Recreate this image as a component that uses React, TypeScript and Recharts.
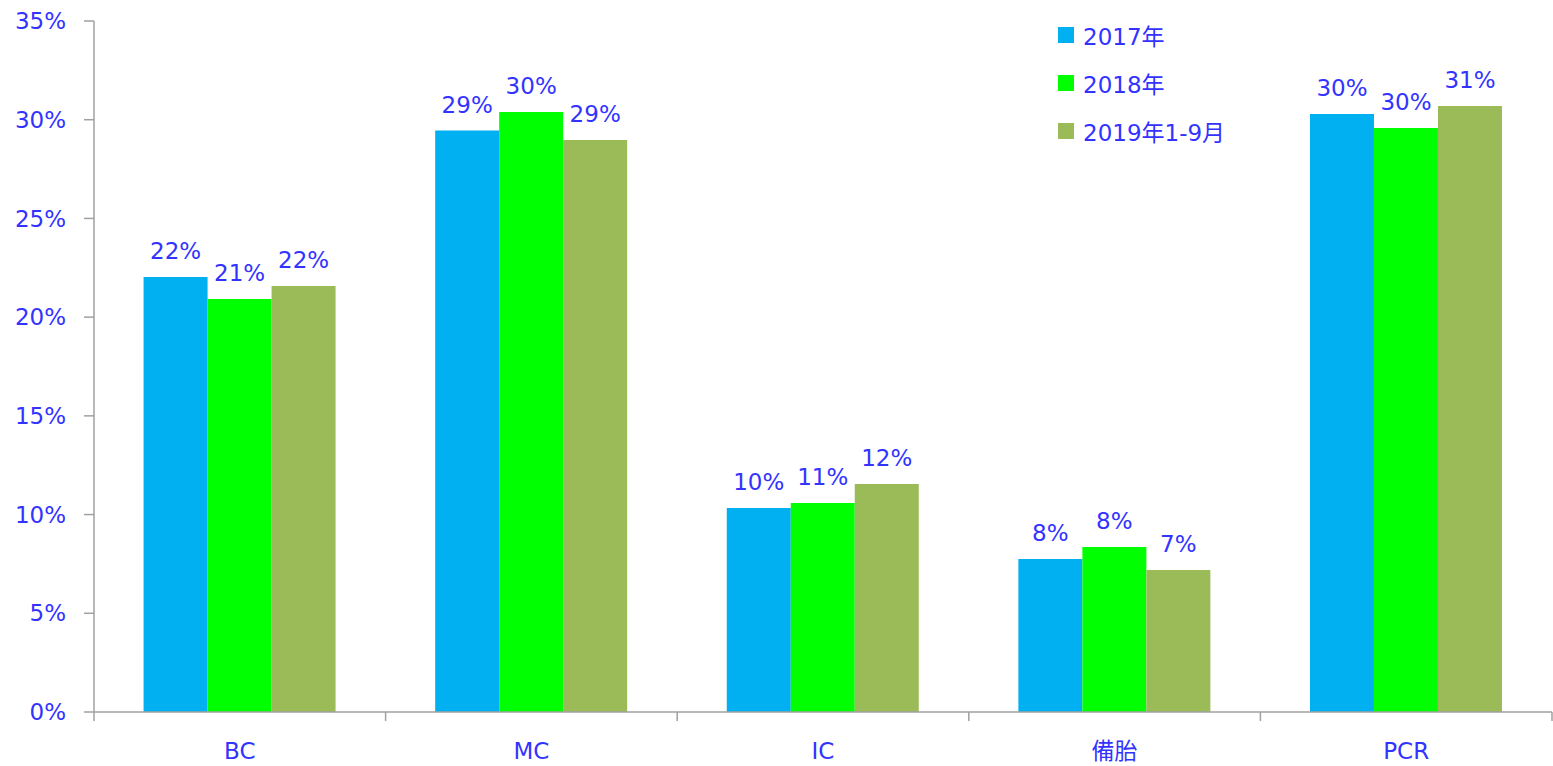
import { BarChart, Bar, XAxis, YAxis, LabelList } from 'recharts';

const categories = ['BC', 'MC', 'IC', '備胎', 'PCR'];
const share2017 = [22.03, 29.45, 10.33, 7.75, 30.29];
const share2018 = [20.92, 30.39, 10.59, 8.36, 29.58];
const share2019 = [21.58, 28.97, 11.55, 7.19, 30.69];
const yTicks = [0, 5, 10, 15, 20, 25, 30, 35];

const seriesNames = ['2017年', '2018年', '2019年1-9月'];
const seriesColors = ['#00B0F0', '#00FF00', '#9BBB59'];

const W = 1553;
const H = 766;
const MARGIN = { top: 21, right: 1, bottom: 0, left: 14 };
const Y_AXIS_W = 80;
const BAND = (W - MARGIN.left - MARGIN.right - Y_AXIS_W) / categories.length;
const TEXT = '#3333FF';
const AXIS = '#A0A0A0';
const FONT = "'DejaVu Sans', 'Noto Sans CJK SC', sans-serif";
const FS = 23;

const data = categories.map((name, i) => ({
  name,
  s2017: share2017[i],
  s2018: share2018[i],
  s2019: share2019[i],
}));

const keys = ['s2017', 's2018', 's2019'];

function XTick(props: any) {
  const { x, y, payload, index } = props;
  const half = BAND / 2;
  return (
    <g>
      <line x1={x - half} x2={x - half} y1={y} y2={y + 9} stroke={AXIS} strokeWidth={1.5} />
      {index === categories.length - 1 && (
        <line x1={x + half} x2={x + half} y1={y} y2={y + 9} stroke={AXIS} strokeWidth={1.5} />
      )}
      <text x={x} y={y + 47} textAnchor="middle" fill={TEXT} fontSize={FS} fontFamily={FONT}>
        {payload.value}
      </text>
    </g>
  );
}

function LegendBox() {
  return (
    <div style={{ position: 'absolute', left: 1058, top: 11, fontFamily: FONT }}>
      {seriesNames.map((n, i) => (
        <div key={n} style={{ display: 'flex', alignItems: 'center', height: 48 }}>
          <span
            style={{ width: 16, height: 16, background: seriesColors[i], display: 'inline-block', marginRight: 9 }}
          />
          <span style={{ color: TEXT, fontSize: FS }}>{n}</span>
        </div>
      ))}
    </div>
  );
}

const fmt = (v: any) => `${Math.round(Number(v))}%`;

export default function App() {
  return (
    <div style={{ position: 'absolute', left: 0, top: 0, width: W, height: H, fontFamily: FONT, background: '#fff' }}>
      <BarChart width={W} height={H} data={data} margin={MARGIN} barCategoryGap="17%" barGap={0}>
        <XAxis
          dataKey="name"
          height={54}
          axisLine={{ stroke: AXIS, strokeWidth: 1.5 }}
          tickLine={false}
          tickSize={0}
          tickMargin={0}
          tick={<XTick />}
          interval={0}
        />
        <YAxis
          width={Y_AXIS_W}
          domain={[0, 35]}
          ticks={yTicks}
          tickFormatter={(v) => `${v}%`}
          axisLine={{ stroke: AXIS, strokeWidth: 1.5 }}
          tickLine={{ stroke: AXIS, strokeWidth: 1.5 }}
          tickSize={10}
          tickMargin={18}
          tick={{ fill: TEXT, fontSize: FS, fontFamily: FONT }}
        />
        {keys.map((k, i) => (
          <Bar key={k} dataKey={k} name={seriesNames[i]} fill={seriesColors[i]} isAnimationActive={false}>
            <LabelList
              dataKey={k}
              position="top"
              offset={18}
              formatter={fmt}
              fill={TEXT}
              fontSize={FS}
              fontFamily={FONT}
            />
          </Bar>
        ))}
      </BarChart>
      <LegendBox />
    </div>
  );
}
